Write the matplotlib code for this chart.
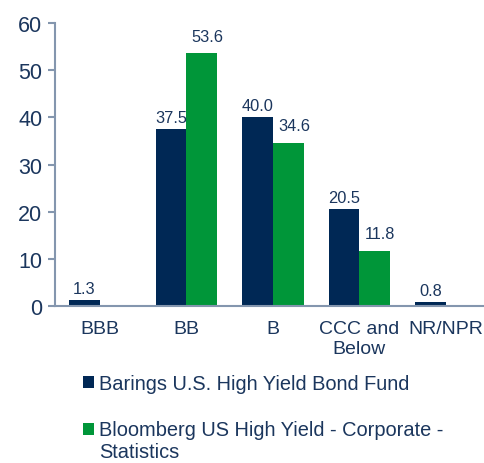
import numpy as np
import matplotlib
matplotlib.use("Agg")
import matplotlib.pyplot as plt
from matplotlib.patches import Rectangle
from matplotlib.legend_handler import HandlerPatch

# Dati
categories = ["BBB", "BB", "B", "CCC and\nBelow", "NR/NPR"]
fund = [1.3, 37.5, 40.0, 20.5, 0.8]
index = [None, 53.6, 34.6, 11.8, None]
fund_name = "Barings U.S. High Yield Bond Fund"
index_name = "Bloomberg US High Yield - Corporate -\nStatistics"

navy = "#002855"
green = "#009639"
txt = "#1B365D"
spine = "#8496AE"

plt.rcParams['font.family'] = ['Liberation Sans', 'DejaVu Sans']

fig = plt.figure(figsize=(4.85, 4.64), dpi=100)
ax = fig.add_axes([0.113, 0.338, 0.887, 0.61])

x = np.arange(len(categories))
w = 0.355
idx_vals = [v if v is not None else 0 for v in index]
b1 = ax.bar(x - w/2, fund, w, color=navy, label=fund_name)
b2 = ax.bar(x + w/2, idx_vals, w, color=green, label=index_name)

for xi, v in zip(x, fund):
	ax.annotate("%.1f" % v, (xi - w/2, v), xytext=(0, 3), textcoords="offset points",
		ha="center", va="bottom", fontsize=11.8, color=txt)
for xi, v in zip(x, index):
	if v is None:
		continue
	ax.annotate("%.1f" % v, (xi + w/2, v), xytext=(4, 7), textcoords="offset points",
		ha="center", va="bottom", fontsize=11.8, color=txt)

ax.set_ylim(0, 60)
ax.set_yticks(range(0, 61, 10))
ax.set_xlim(-0.52, 4.45)
ax.set_xticks(x)
ax.set_xticklabels(categories, fontsize=14, color=txt, linespacing=1.25)
ax.tick_params(axis='x', length=0, pad=10)
ax.tick_params(axis='y', labelsize=15.5, colors=txt, length=5, width=1.5, color=spine, pad=4)
for lab in ax.get_yticklabels():
	lab.set_color(txt)
ax.spines['right'].set_visible(False)
ax.spines['top'].set_visible(False)
ax.spines['left'].set_color(spine)
ax.spines['bottom'].set_color(spine)
ax.spines['left'].set_linewidth(1.5)
ax.spines['bottom'].set_linewidth(1.5)

# il quadratino della seconda voce va allineato alla prima riga
def square_up(legend, orig_handle, xdescent, ydescent, width, height, fontsize):
	return Rectangle((-xdescent, -ydescent + 0.6 * fontsize), width, height)

h1 = b1.patches[0]
h2 = b2.patches[1]
leg = fig.legend([h1, h2], [fund_name, index_name], loc="upper left", bbox_to_anchor=(0.155, 0.208),
	frameon=False, fontsize=14.4, handlelength=0.55, handleheight=0.55,
	handletextpad=0.25, labelspacing=1.35, borderaxespad=0,
	handler_map={h2: HandlerPatch(patch_func=square_up)})
for t in leg.get_texts():
	t.set_color(txt)
	t.set_linespacing(1.2)

fig.savefig("out.png", dpi=100)
